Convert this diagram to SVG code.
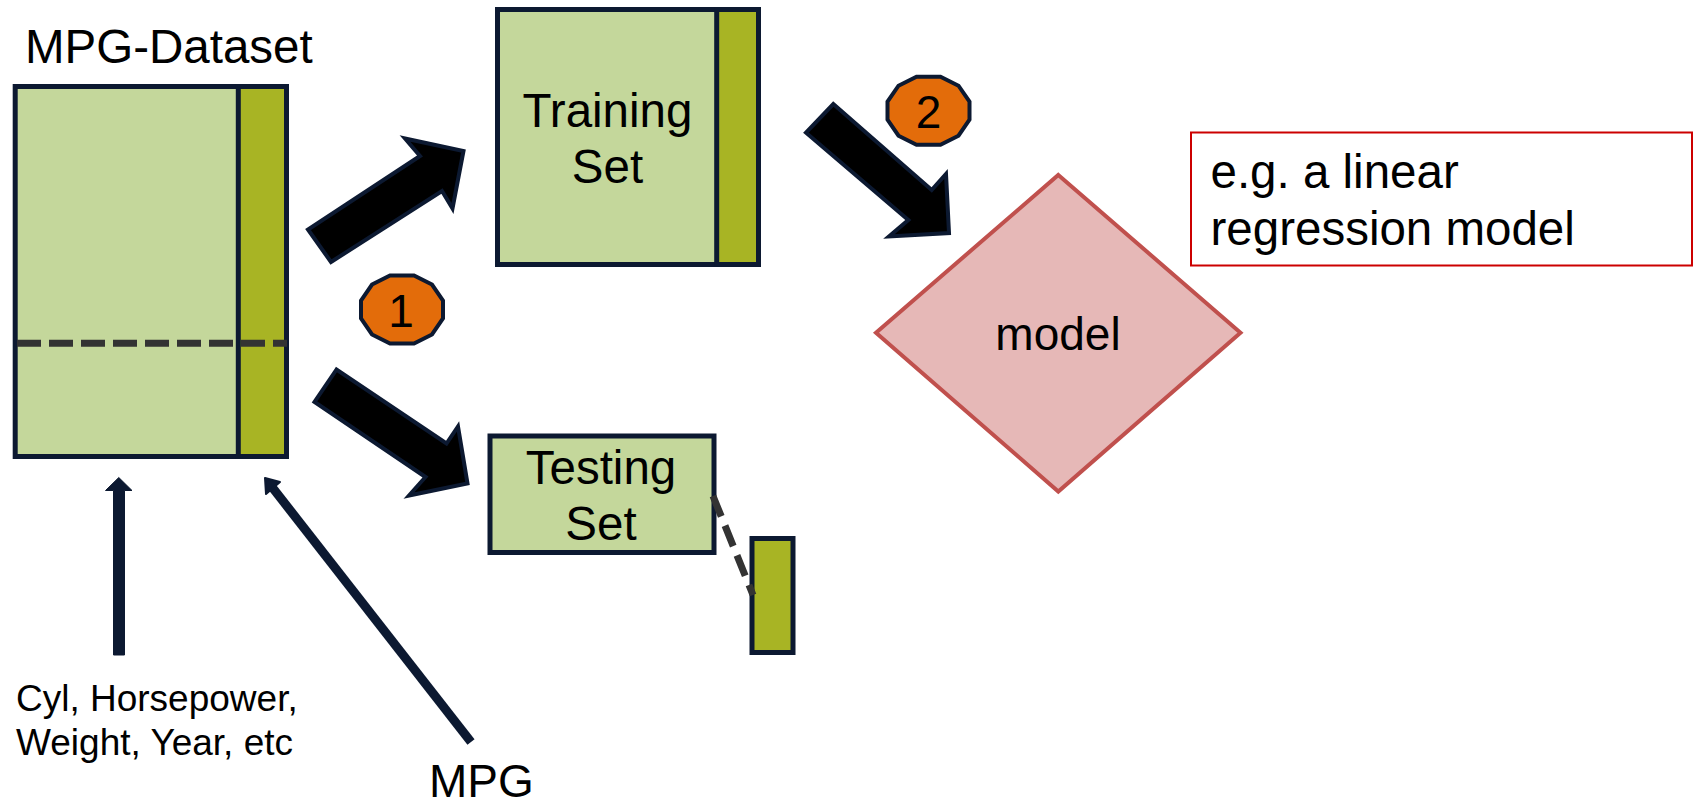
<svg xmlns="http://www.w3.org/2000/svg" xmlns:xlink="http://www.w3.org/1999/xlink" width="1698" height="808" viewBox="0 0 1698 808">
<style>
.t{font-family:"Liberation Sans",Arial,sans-serif;fill:#000}
.big{font-size:47.5px}
.mid{font-size:46px}
.sm{font-size:37px}
.light{fill:#C4D79B;stroke:#0C1931;stroke-width:5}
.olive{fill:#A8B424;stroke:#0C1931;stroke-width:5}
.blk{fill:#000;stroke:#0C1931;stroke-width:4;stroke-linejoin:miter}
.dash{stroke:#333;stroke-width:7;fill:none;stroke-dasharray:24 8}
.badge{fill:#E36C0A;stroke:#0C1931;stroke-width:4}
</style>
<defs>
<polygon id="oct" points="-12,-34 12,-34 30,-25 41,-9 41,9 30,25 12,34 -12,34 -30,25 -41,9 -41,-9 -30,-25"/>
</defs>
<rect width="1698" height="808" fill="#fff"/>

<g id="dataset">
<text class="t big" x="25" y="63">MPG-Dataset</text>
<rect class="light" x="15.2" y="86.5" width="271.3" height="370"/>
<rect class="olive" x="238.3" y="86.5" width="48.2" height="370"/>
<line class="dash" x1="17" y1="343.3" x2="287" y2="343.3"/>
</g>

<g id="training">
<rect class="light" x="497.5" y="9.5" width="261" height="255"/>
<rect class="olive" x="716.7" y="9.5" width="41.8" height="255"/>
<text class="t big" text-anchor="middle" x="607.5" y="127">Training</text>
<text class="t big" text-anchor="middle" x="607.5" y="183">Set</text>
</g>

<g id="testing">
<rect class="light" x="490" y="436" width="224" height="116.5"/>
<text class="t big" text-anchor="middle" x="601" y="484">Testing</text>
<text class="t big" text-anchor="middle" x="601" y="540">Set</text>
</g>

<g id="testing-target">
<rect class="olive" x="752" y="538.5" width="41" height="114"/>
</g>

<g id="model">
<polygon points="1058.3,175 1240.5,332.7 1058.3,491.5 876,332.7" fill="#E6B8B7" stroke="#C0504D" stroke-width="4"/>
<text class="t mid" text-anchor="middle" x="1058" y="350">model</text>
</g>

<g id="note">
<rect x="1191" y="132.5" width="501" height="133" fill="#fff" stroke="#CC0000" stroke-width="2"/>
<text class="t big" x="1210.5" y="188.3">e.g. a linear</text>
<text class="t big" x="1210.5" y="245">regression model</text>
</g>

<g id="badge1">
<use xlink:href="#oct" href="#oct" class="badge" x="402" y="309.5"/>
<text class="t mid" text-anchor="middle" x="401" y="326.5">1</text>
</g>

<g id="badge2">
<use xlink:href="#oct" href="#oct" class="badge" x="928.5" y="110.7"/>
<text class="t mid" text-anchor="middle" x="928.5" y="127.5">2</text>
</g>

<g id="features-label">
<text class="t sm" x="16" y="711">Cyl, Horsepower,</text>
<text class="t sm" x="16" y="755">Weight, Year, etc</text>
</g>

<g id="mpg-label">
<text class="t mid" x="429" y="797">MPG</text>
</g>

<g id="connectors">
<polygon class="blk" points="308,229.5 331,262 442,191 452.5,208.5 463.5,151 405,138.5 420,156"/>
<polygon class="blk" points="336.5,369.5 314.5,402 425.5,477 409,495.5 467.5,483.5 458,426.5 446.5,443.5"/>
<polygon class="blk" points="806,132.7 833.3,104 931.7,190 946,174 949,233 889,236.5 908.3,220"/>
<line x1="471" y1="742" x2="272.4" y2="487.5" stroke="#0C1931" stroke-width="9"/>
<polygon points="265,478 280,482 266,494" fill="#0C1931" stroke="#0C1931" stroke-width="2" stroke-linejoin="round"/>
<polygon points="113.5,655 124.5,655 124.5,490.5 132,490.5 118.8,477.5 105.5,490.5 113.5,490.5" fill="#0C1931" stroke="#0C1931" stroke-width="1"/>
<line x1="713" y1="496" x2="753" y2="595" stroke="#333" stroke-width="7" stroke-dasharray="22 10"/>
</g>
</svg>
